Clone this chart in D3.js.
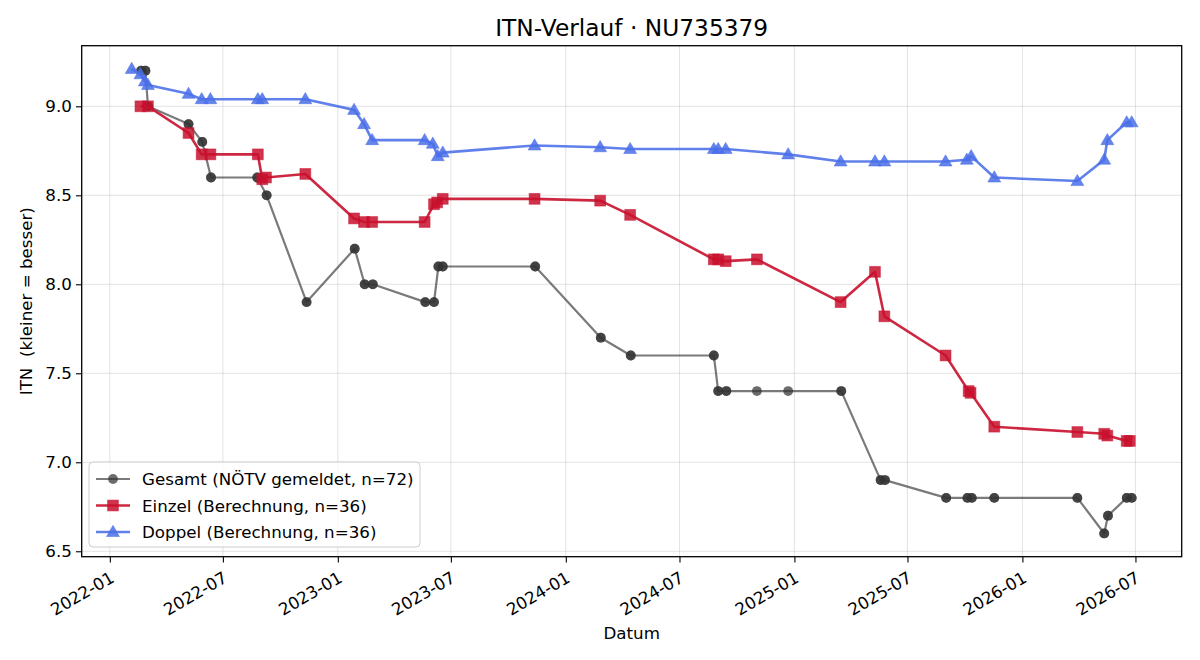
<!DOCTYPE html>
<html>
<head>
<meta charset="utf-8">
<script src="https://cdn.jsdelivr.net/npm/d3@7"></script>
<style>
  html, body { margin: 0; padding: 0; background: #fff; }
  svg text { font-family: "DejaVu Sans", sans-serif; fill: #000; }
</style>
</head>
<body>
<svg id="chart" width="1200" height="660"></svg>
<script>
// ---------- data ----------
const gesamtDates = [
  "2022-02-20","2022-02-20","2022-02-27","2022-02-27","2022-03-03","2022-03-03",
  "2022-05-07","2022-05-07","2022-05-29","2022-05-29","2022-06-12","2022-06-12",
  "2022-08-25","2022-08-25","2022-09-09","2022-09-09","2022-11-12","2022-11-12",
  "2023-01-28","2023-01-28","2023-02-13","2023-02-13","2023-02-26","2023-02-26",
  "2023-05-21","2023-05-21","2023-06-04","2023-06-04","2023-06-11","2023-06-11",
  "2023-06-18","2023-06-18","2023-11-13","2023-11-13","2024-02-26","2024-02-26",
  "2024-04-14","2024-04-14","2024-08-25","2024-08-25","2024-09-01","2024-09-01",
  "2024-09-14","2024-09-14","2024-11-02","2024-12-22","2025-03-17","2025-03-17",
  "2025-05-19","2025-05-19","2025-05-26","2025-05-26","2025-09-01","2025-09-01",
  "2025-10-05","2025-10-05","2025-10-12","2025-10-12","2025-11-17","2025-11-17",
  "2026-03-30","2026-03-30","2026-05-12","2026-05-12","2026-05-18","2026-05-18",
  "2026-06-17","2026-06-17","2026-06-25","2026-06-25"
];
const gesamtValues = [
  9.2,9.2,9.2,9.2,9.0,9.0,
  8.9,8.9,8.8,8.8,8.6,8.6,
  8.6,8.6,8.5,8.5,7.9,7.9,
  8.2,8.2,8.0,8.0,8.0,8.0,
  7.9,7.9,7.9,7.9,8.1,8.1,
  8.1,8.1,8.1,8.1,7.7,7.7,
  7.6,7.6,7.6,7.6,7.4,7.4,
  7.4,7.4,7.4,7.4,7.4,7.4,
  6.9,6.9,6.9,6.9,6.8,6.8,
  6.8,6.8,6.8,6.8,6.8,6.8,
  6.8,6.8,6.6,6.6,6.7,6.7,
  6.8,6.8,6.8,6.8
];

const einzelDates = [
  "2022-02-19","2022-03-03","2022-05-07","2022-05-28","2022-06-11","2022-08-26",
  "2022-09-02","2022-09-08","2022-11-10","2023-01-27","2023-02-12","2023-02-25",
  "2023-05-20","2023-06-04","2023-06-09","2023-06-18","2023-11-12","2024-02-25",
  "2024-04-13","2024-08-25","2024-09-01","2024-09-13","2024-11-02","2025-03-16",
  "2025-05-10","2025-05-25","2025-08-31","2025-10-07","2025-10-10","2025-11-17",
  "2026-03-30","2026-05-12","2026-05-17","2026-06-17","2026-06-22"
];
const einzelValues = [
  9.0,9.0,8.85,8.73,8.73,8.73,
  8.59,8.60,8.62,8.37,8.35,8.35,
  8.35,8.45,8.46,8.48,8.48,8.47,
  8.39,8.14,8.14,8.13,8.14,7.90,
  8.07,7.82,7.60,7.40,7.39,7.20,
  7.17,7.16,7.15,7.12,7.12
];

const doppelDates = [
  "2022-02-05","2022-02-19","2022-02-26","2022-03-03","2022-05-07","2022-05-28",
  "2022-06-11","2022-08-26","2022-09-02","2022-11-10","2023-01-27","2023-02-12",
  "2023-02-25","2023-05-20","2023-06-02","2023-06-10","2023-06-18","2023-11-12",
  "2024-02-25","2024-04-13","2024-08-25","2024-09-01","2024-09-13","2024-12-22",
  "2025-03-16","2025-05-10","2025-05-25","2025-08-31","2025-10-04","2025-10-11",
  "2025-11-17","2026-03-30","2026-05-12","2026-05-17","2026-06-17","2026-06-25"
];
const doppelValues = [
  9.21,9.18,9.14,9.12,9.07,9.04,
  9.04,9.04,9.04,9.04,8.98,8.90,
  8.81,8.81,8.79,8.72,8.74,8.78,
  8.77,8.76,8.76,8.76,8.76,8.73,
  8.69,8.69,8.69,8.69,8.70,8.72,
  8.60,8.58,8.70,8.81,8.91,8.91
];

const seriesNames = [
  "Gesamt (NÖTV gemeldet, n=72)",
  "Einzel (Berechnung, n=36)",
  "Doppel (Berechnung, n=36)"
];
const yTickValues = [6.5, 7.0, 7.5, 8.0, 8.5, 9.0];
const xTickDates = ["2022-01-01","2022-07-01","2023-01-01","2023-07-01","2024-01-01",
  "2024-07-01","2025-01-01","2025-07-01","2026-01-01","2026-07-01"];
const titleText = "ITN-Verlauf · NU735379";
const xLabelText = "Datum";
const yLabelText = "ITN  (kleiner = besser)";

// ---------- setup ----------
const parse = d3.utcParse("%Y-%m-%d");
const fmt = d3.utcFormat("%Y-%m");
const W = 1200, H = 660;
const plot = { left: 81.7, right: 1181.7, top: 45.7, bottom: 556.7 };
const FS = 16.7;

const toPts = (ds, vs) => ds.map((d, i) => ({ date: parse(d), value: vs[i] }));
const gesamt = toPts(gesamtDates, gesamtValues);
const einzel = toPts(einzelDates, einzelValues);
const doppel = toPts(doppelDates, doppelValues);
const all = gesamt.concat(einzel, doppel);

const tExt = d3.extent(all, d => +d.date);
const tPad = (tExt[1] - tExt[0]) * 0.05;
const vExt = d3.extent(all, d => d.value);
const vPad = (vExt[1] - vExt[0]) * 0.05;

const x = d3.scaleUtc()
  .domain([new Date(tExt[0] - tPad), new Date(tExt[1] + tPad)])
  .range([plot.left, plot.right]);
const y = d3.scaleLinear()
  .domain([vExt[0] - vPad, vExt[1] + vPad])
  .range([plot.bottom, plot.top]);

const svg = d3.select("#chart");
svg.append("rect").attr("width", W).attr("height", H).attr("fill", "#fff");

// grid
const xTicks = xTickDates.map(parse);
const grid = svg.append("g");
grid.selectAll("line.gx").data(xTicks).join("line")
  .attr("x1", d => x(d)).attr("x2", d => x(d))
  .attr("y1", plot.top).attr("y2", plot.bottom)
  .attr("stroke", "#b0b0b0").attr("stroke-opacity", 0.35).attr("stroke-width", 1);
grid.selectAll("line.gy").data(yTickValues).join("line")
  .attr("x1", plot.left).attr("x2", plot.right)
  .attr("y1", d => y(d)).attr("y2", d => y(d))
  .attr("stroke", "#b0b0b0").attr("stroke-opacity", 0.35).attr("stroke-width", 1);

// axes
const xAxis = d3.axisBottom(x).tickValues(xTicks).tickFormat(fmt).tickSize(5.8).tickPadding(4);
const gx = svg.append("g").attr("transform", `translate(0,${plot.bottom})`).call(xAxis);
gx.select(".domain").remove();
gx.selectAll(".tick line").attr("stroke", "#000").attr("stroke-width", 1.1);
gx.selectAll(".tick text")
  .attr("font-size", FS).attr("font-family", "DejaVu Sans")
  .attr("text-anchor", "end")
  .attr("y", null)
  .attr("transform", "translate(-1,14) rotate(-30)")
  .attr("dy", "0.72em");

const yAxis = d3.axisLeft(y).tickValues(yTickValues).tickFormat(d3.format(".1f")).tickSize(5.8).tickPadding(4);
const gy = svg.append("g").attr("transform", `translate(${plot.left},0)`).call(yAxis);
gy.select(".domain").remove();
gy.selectAll(".tick line").attr("stroke", "#000").attr("stroke-width", 1.1);
gy.selectAll(".tick text").attr("font-size", FS).attr("font-family", "DejaVu Sans");

// series
const line = d3.line().x(d => x(d.date)).y(d => y(d.value));

// Gesamt
svg.append("path").datum(gesamt).attr("d", line)
  .attr("fill", "none").attr("stroke", "#333333").attr("stroke-opacity", 0.65)
  .attr("stroke-width", 2.2).attr("stroke-linejoin", "round");
svg.append("g").selectAll("circle").data(gesamt).join("circle")
  .attr("cx", d => x(d.date)).attr("cy", d => y(d.value)).attr("r", 4.9)
  .attr("fill", "#333333").attr("fill-opacity", 0.72);

// Einzel
const red = "#c8102e";
svg.append("path").datum(einzel).attr("d", line)
  .attr("fill", "none").attr("stroke", red).attr("stroke-opacity", 0.9)
  .attr("stroke-width", 2.6).attr("stroke-linejoin", "round");
const sq = 10.8;
svg.append("g").selectAll("rect").data(einzel).join("rect")
  .attr("x", d => x(d.date) - sq / 2).attr("y", d => y(d.value) - sq / 2)
  .attr("width", sq).attr("height", sq)
  .attr("fill", red).attr("fill-opacity", 0.85)
  .attr("stroke", red).attr("stroke-opacity", 0.5).attr("stroke-width", 1);

// Doppel
const blue = "#4a6ee8";
svg.append("path").datum(doppel).attr("d", line)
  .attr("fill", "none").attr("stroke", blue).attr("stroke-opacity", 0.88)
  .attr("stroke-width", 2.6).attr("stroke-linejoin", "round");
const tri = d3.symbol().type(d3.symbolTriangle).size(72);
svg.append("g").selectAll("path").data(doppel).join("path")
  .attr("d", tri)
  .attr("transform", d => `translate(${x(d.date)},${y(d.value) + 0.8})`)
  .attr("fill", blue).attr("fill-opacity", 0.85)
  .attr("stroke", blue).attr("stroke-opacity", 0.5).attr("stroke-width", 1);

// frame
svg.append("rect")
  .attr("x", plot.left).attr("y", plot.top)
  .attr("width", plot.right - plot.left).attr("height", plot.bottom - plot.top)
  .attr("fill", "none").attr("stroke", "#000").attr("stroke-width", 1.3);

// title & labels
svg.append("text").attr("x", (plot.left + plot.right) / 2).attr("y", 36)
  .attr("text-anchor", "middle").attr("font-size", 23.3).text(titleText);
svg.append("text").attr("x", (plot.left + plot.right) / 2).attr("y", 639)
  .attr("text-anchor", "middle").attr("font-size", FS).text(xLabelText);
svg.append("text")
  .attr("transform", `translate(32,${(plot.top + plot.bottom) / 2}) rotate(-90)`)
  .attr("text-anchor", "middle").attr("font-size", FS)
  .style("white-space", "pre").text(yLabelText);

// legend
const lg = svg.append("g");
lg.append("rect").attr("x", 89).attr("y", 462).attr("width", 331).attr("height", 85)
  .attr("rx", 4).attr("fill", "#fff").attr("fill-opacity", 0.8)
  .attr("stroke", "#cccccc").attr("stroke-width", 1);
const legendStyles = [
  { color: "#333333", op: 0.65, sop: 0.72, marker: "circle" },
  { color: red, op: 0.9, sop: 0.85, marker: "square" },
  { color: blue, op: 0.88, sop: 0.85, marker: "triangle" }
];
seriesNames.forEach((name, i) => {
  const cy = 479 + i * 26.5;
  const st = legendStyles[i];
  lg.append("line").attr("x1", 96).attr("x2", 130).attr("y1", cy).attr("y2", cy)
    .attr("stroke", st.color).attr("stroke-opacity", st.op)
    .attr("stroke-width", i === 0 ? 2.2 : 2.6);
  if (st.marker === "circle") {
    lg.append("circle").attr("cx", 113).attr("cy", cy).attr("r", 4.9)
      .attr("fill", st.color).attr("fill-opacity", st.sop);
  } else if (st.marker === "square") {
    lg.append("rect").attr("x", 113 - sq / 2).attr("y", cy - sq / 2)
      .attr("width", sq).attr("height", sq)
      .attr("fill", st.color).attr("fill-opacity", st.sop)
      .attr("stroke", st.color).attr("stroke-opacity", 0.5);
  } else {
    lg.append("path").attr("d", tri).attr("transform", `translate(113,${cy + 0.8})`)
      .attr("fill", st.color).attr("fill-opacity", st.sop)
      .attr("stroke", st.color).attr("stroke-opacity", 0.5);
  }
  lg.append("text").attr("x", 142).attr("y", cy).attr("dy", "0.36em")
    .attr("font-size", FS).text(name);
});
</script>
</body>
</html>
